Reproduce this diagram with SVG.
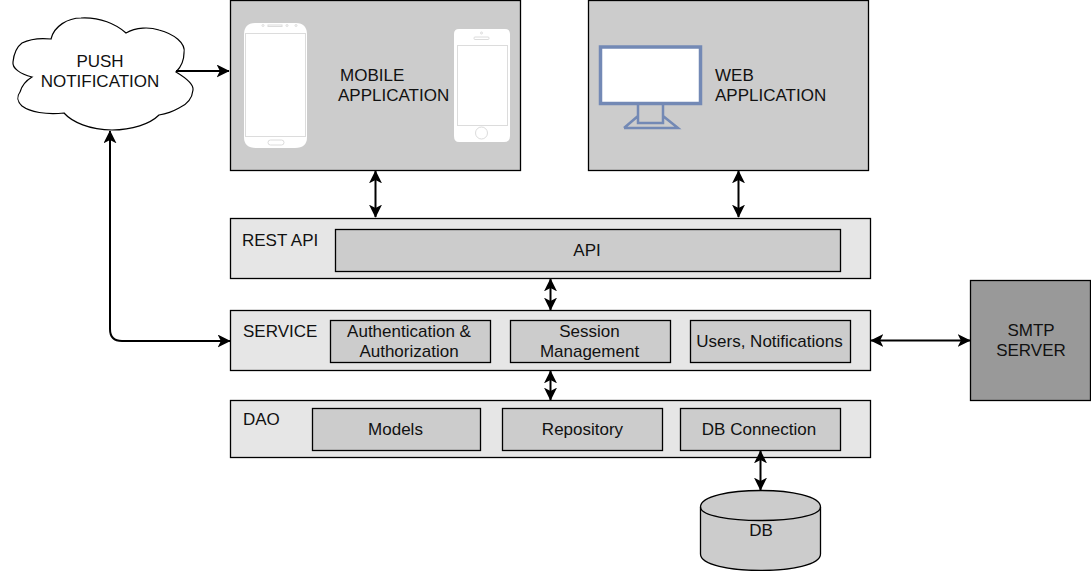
<svg xmlns="http://www.w3.org/2000/svg" width="1091" height="571" viewBox="0 0 1091 571">
<style>
text{font-family:"Liberation Sans",Arial,sans-serif;font-size:17px;fill:#111;text-anchor:middle}
.l{text-anchor:start}
.b{stroke:#000;stroke-width:1.300;fill:#ccc}
.p{stroke:#000;stroke-width:1.300;fill:#e6e6e6}
.c{fill:none;stroke:#000;stroke-width:2}
.w{fill:none;stroke:#dcdcdc;stroke-width:1}
</style>
<defs>
<marker id="a" viewBox="0 0 10 10" refX="9.500" refY="5" markerWidth="13" markerHeight="13" markerUnits="userSpaceOnUse" orient="auto-start-reverse"><path d="M0 0L10 5L0 10L2.500 5Z" fill="#000"/></marker>
</defs>
<rect width="1091" height="571" fill="#fff"/>
<g id="push-notification">
<path d="M51 39C54 26 68 18 81 18C100 17 116 24 126 33C136 27 150 27 159 30C174 34 186 43 184 53C184 62 180 68 176 72C186 78 194 84 193 90C192 100 186 105 179 108C172 112 165 114 159 115C150 124 132 130 112 130C90 130 72 122 64 113C46 115 30 112 22 106C16 100 17 96 20 92C22 85 27 80 32 77C20 74 12 68 13 62C14 52 18 46 22 43C30 39 42 38 51 39Z" fill="#fff" stroke="#000" stroke-width="1.200"/>
<text x="100" y="67">PUSH</text><text x="100" y="87">NOTIFICATION</text>
</g>
<g id="mobile-application">
<rect class="b" x="230.500" y="0.500" width="290" height="170"/>
<path fill="#fff" d="M255 23H296Q307 23 307 35V137Q307 148 295 148H256Q244 148 244 137V35Q244 23 255 23Z"/>
<rect class="w" x="245.500" y="33.500" width="60" height="103"/>
<rect class="w" x="268" y="140" width="16" height="5" rx="2.500"/>
<rect class="w" x="268" y="25" width="14" height="1.500"/>
<circle class="w" cx="263" cy="25.500" r="1"/><circle class="w" cx="287" cy="25.500" r="1"/><circle class="w" cx="296" cy="25.500" r="1"/>
<path fill="#fff" d="M459 29H505Q510 29 510 34V136Q510 142 504 142H459Q454 142 454 136V34Q454 29 459 29Z"/>
<rect class="w" x="457.500" y="45.500" width="50" height="80"/>
<circle class="w" cx="481.500" cy="133" r="6"/>
<rect class="w" x="474" y="37" width="15" height="2.500" rx="1"/>
<circle class="w" cx="481.500" cy="33" r="1"/>
<text class="l" x="340" y="81">MOBILE</text><text class="l" x="338" y="101">APPLICATION</text>
</g>
<g id="web-application">
<rect class="b" x="588.500" y="0.500" width="280" height="170"/>
<rect x="600.500" y="47" width="100" height="56.500" fill="#fff" stroke="#7389b5" stroke-width="3.500"/>
<path fill="none" stroke="#7389b5" stroke-width="2.500" d="M638 104V123H663V104M624 128L638 116M663 116L678 128H624"/>
<text class="l" x="715" y="81">WEB</text><text class="l" x="715" y="101">APPLICATION</text>
</g>
<g id="rest-api">
<rect class="p" x="230.500" y="218.500" width="640" height="60"/>
<rect class="b" x="335.500" y="229.500" width="505" height="42"/>
<text class="l" x="242" y="246">REST API</text><text x="587" y="256">API</text>
</g>
<g id="service">
<rect class="p" x="230.500" y="310.500" width="640" height="60"/>
<rect class="b" x="330.500" y="320.500" width="160" height="42"/>
<rect class="b" x="510.500" y="320.500" width="160" height="42"/>
<rect class="b" x="690.500" y="320.500" width="160" height="42"/>
<text class="l" x="243" y="337">SERVICE</text>
<text x="409" y="337">Authentication &amp;</text><text x="409" y="357">Authorization</text>
<text x="589.500" y="337">Session</text><text x="589.500" y="357">Management</text>
<text x="769.500" y="347">Users, Notifications</text>
</g>
<g id="dao">
<rect class="p" x="230.500" y="400.500" width="640" height="57"/>
<rect class="b" x="312.500" y="408.500" width="168" height="42"/>
<rect class="b" x="502.500" y="408.500" width="160" height="42"/>
<rect class="b" x="680.500" y="408.500" width="160" height="42"/>
<text class="l" x="243" y="425">DAO</text>
<text x="395.500" y="435">Models</text><text x="582.500" y="435">Repository</text><text x="759" y="435">DB Connection</text>
</g>
<g id="smtp-server">
<rect x="970.500" y="280.500" width="120" height="120" fill="#999" stroke="#000" stroke-width="1.300"/>
<text x="1031" y="336">SMTP</text><text x="1031" y="356">SERVER</text>
</g>
<g id="db">
<path class="b" d="M700.500 507C700.500 485 820.500 485 820.500 507V554C820.500 576 700.500 576 700.500 554Z"/>
<path fill="none" stroke="#000" stroke-width="1.300" d="M700.500 507C700.500 525 820.500 525 820.500 507"/>
<text x="761" y="536">DB</text>
</g>
<g id="connectors">
<path class="c" d="M176 71H229" marker-end="url(#a)"/>
<path class="c" d="M110 131V329Q110 341 122 341H230" marker-start="url(#a)" marker-end="url(#a)"/>
<path class="c" d="M375.500 171V217" marker-start="url(#a)" marker-end="url(#a)"/>
<path class="c" d="M738.500 171V217" marker-start="url(#a)" marker-end="url(#a)"/>
<path class="c" d="M550.500 279V310" marker-start="url(#a)" marker-end="url(#a)"/>
<path class="c" d="M550.500 371V400" marker-start="url(#a)" marker-end="url(#a)"/>
<path class="c" d="M871 340.500H970" marker-start="url(#a)" marker-end="url(#a)"/>
<path class="c" d="M760.500 451V490" marker-start="url(#a)" marker-end="url(#a)"/>
</g>
</svg>
